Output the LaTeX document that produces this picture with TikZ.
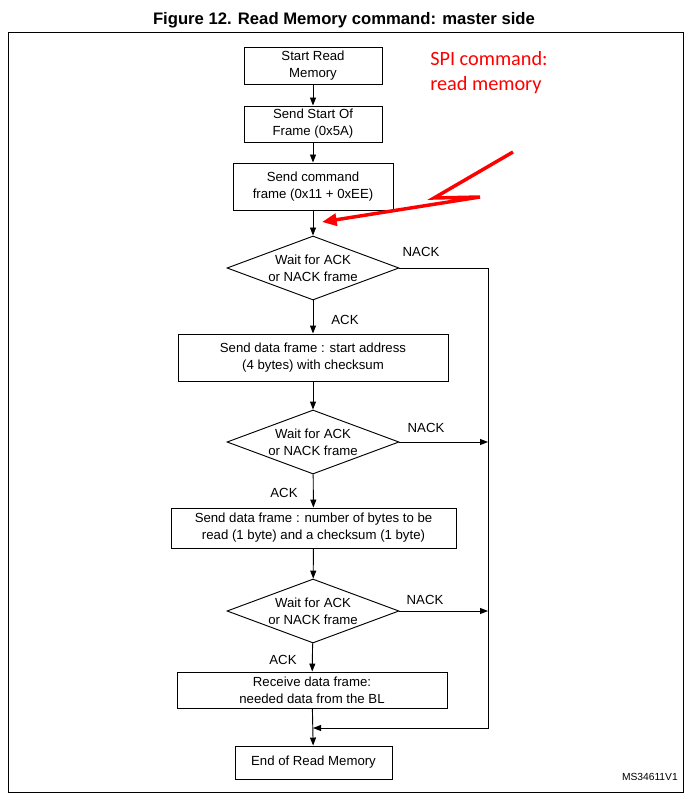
\documentclass[tikz,border=0pt]{standalone}
\usepackage{fontspec}
\setmainfont{Liberation Sans}
\newfontfamily\spifont{Carlito}
\usetikzlibrary{shapes.geometric,arrows.meta}

\begin{document}
\begin{tikzpicture}[x=0.75pt, y=-0.75pt,
  txt/.style = {font=\fontsize{9.9}{12.7}\selectfont, align=center, inner sep=0pt},
  box/.style = {txt, draw, line width=0.7pt},
  test/.style = {txt, draw, line width=0.7pt, diamond, aspect=2.7, minimum width=129pt, minimum height=48pt},
  flow/.style = {line width=0.7pt, -{Triangle[length=6pt, width=4.5pt]}},
  lbl/.style = {txt}]
\useasboundingbox (0,0) rectangle (698,802);
\node[font=\bfseries\fontsize{12.5}{14}\selectfont, inner sep=0pt] (title) at (344,20) {Figure 12. Read Memory command: master side};
\draw[line width=0.75pt] (8,33) rectangle (683,792);

\node[box, minimum width=103.5pt, minimum height=27.75pt] (start) at (313,65.5) {Start Read\\Memory};
\node[box, minimum width=103.5pt, minimum height=27pt] (sof) at (313,124) {Send Start Of\\Frame (0x5A)};
\node[box, minimum width=120pt, minimum height=35.25pt] (cmd) at (313,186.5) {Send command\\frame (0x11 + 0xEE)};
\node[test] (wait1) at (313,268) {Wait for ACK\\or NACK frame};
\node[box, minimum width=202.5pt, minimum height=35.25pt] (addr) at (313,357.5) {Send data frame : start address\\(4 bytes) with checksum};
\node[test] (wait2) at (313,442) {Wait for ACK\\or NACK frame};
\node[box, minimum width=213.75pt, minimum height=30pt] (nbytes) at (313.5,528) {Send data frame : number of bytes to be\\read (1 byte) and a checksum (1 byte)};
\node[test] (wait3) at (313,611) {Wait for ACK\\or NACK frame};
\node[box, minimum width=202.5pt, minimum height=27pt] (recv) at (312,690) {Receive data frame:\\needed data from the BL};
\node[box, minimum width=117.75pt, minimum height=24.75pt] (stop) at (313.5,762.5) {End of Read Memory};

\node[lbl] (nack1) at (421,252) {NACK};
\node[lbl] (ack1) at (345,320) {ACK};
\node[lbl] (nack2) at (426,428) {NACK};
\node[lbl] (ack2) at (284,493) {ACK};
\node[lbl] (nack3) at (425,600) {NACK};
\node[lbl] (ack3) at (283,660) {ACK};

\coordinate (rbot) at (488,728);
\coordinate (ret) at (313,728);

\draw[flow] (start) -- (sof);
\draw[flow] (sof) -- (cmd);
\draw[flow] (cmd) -- (wait1);
\draw[flow] (wait1) -- (addr);
\draw[flow] (addr) -- (wait2);
\draw[flow] (wait2) -- (nbytes);
\draw[flow] (nbytes) -- (wait3);
\draw[flow] (wait3) -- (recv);
\draw[flow] (recv) -- (stop);
\draw[flow] (wait1.east) -| (rbot) -- (ret);
\draw[flow] (wait2.east) -- (wait2.east -| rbot);
\draw[flow] (wait3.east) -- (wait3.east -| rbot);

\node[red, font=\spifont\fontsize{15.2}{18.8}\selectfont, align=left, anchor=north west, inner sep=0pt] (spi) at (430,51) {SPI command:\\read memory};
\coordinate (z1) at (513,152);
\coordinate (z2) at (434,198);
\coordinate (z3) at (480,197);
\coordinate (z4) at (322,222);
\draw[red, line width=2.6pt, line join=miter, -{Triangle[length=11pt, width=9pt]}] (z1) -- (z2) -- (z3) -- (z4);

\node[font=\fontsize{7.7}{9}\selectfont, anchor=east, inner sep=0pt] (ref) at (678,777) {MS34611V1};
\end{tikzpicture}
\end{document}
